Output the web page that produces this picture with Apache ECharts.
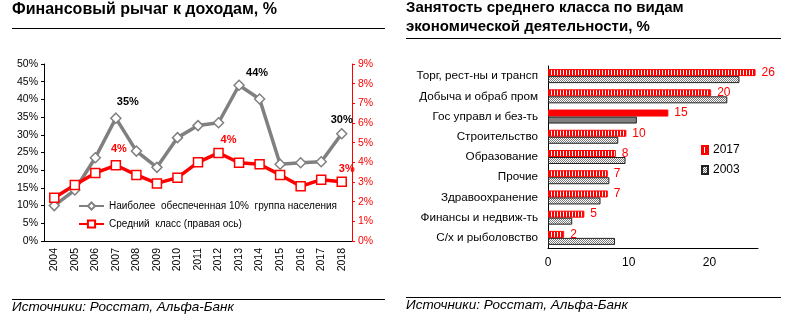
<!DOCTYPE html>
<html><head><meta charset="utf-8">
<script src="https://cdn.jsdelivr.net/npm/echarts/dist/echarts.min.js"></script>
<style>html,body{margin:0;padding:0;background:#fff}#c{width:787px;height:325px}</style>
</head><body><div id="c"></div>
<script>
// ---- Left chart data ----
const years = ['2004','2005','2006','2007','2008','2009','2010','2011','2012','2013','2014','2015','2016','2017','2018'];
const richestShare = [10.0, 14.4, 23.5, 34.7, 25.4, 20.8, 29.2, 32.6, 33.4, 44.0, 40.1, 21.7, 22.1, 22.4, 30.3];
const middleClassLeverage = [2.2, 2.85, 3.46, 3.85, 3.36, 2.93, 3.22, 4.0, 4.48, 3.98, 3.9, 3.36, 2.78, 3.12, 3.01];
const richestName = 'Наиболее  обеспеченная 10%  группа населения';
const middleName = 'Средний  класс (правая ось)';
const leftAxisTicks = {min: 0, max: 50, step: 5};
const rightAxisTicks = {min: 0, max: 9, step: 1};
// ---- Right chart data ----
const sectors = ['Торг, рест-ны и трансп','Добыча и обраб пром','Гос управл и без-ть','Строительство','Образование','Прочие','Здравоохранение','Финансы и недвиж-ть','С/х и рыболовство'];
const emp2017 = [25.7, 20.2, 14.9, 9.7, 8.4, 7.4, 7.4, 4.5, 2.0];
const emp2003 = [23.7, 22.2, 11.0, 8.7, 9.6, 7.6, 6.5, 3.0, 8.3];
const valueTicks = {min: 0, max: 26, step: 10};

// ---- styles ----
const FONT = '"Liberation Sans", Arial, sans-serif';
const richLabelOffsets = {3: [12, -3], 9: [18, 1], 14: [0, -1]};
const midLabelOffsets = {3: [3, -4], 8: [10, 0], 14: [5, 0]};
const solidIdx = 2;

function stripe(){
  const c = document.createElement('canvas'); c.width = 3; c.height = 3;
  const x = c.getContext('2d');
  x.fillStyle = '#ffffff'; x.fillRect(0,0,3,3);
  x.fillStyle = '#ff0000'; x.fillRect(0,0,2,3);
  return c;
}
function checker(){
  const c = document.createElement('canvas'); c.width = 2; c.height = 2;
  const x = c.getContext('2d');
  x.fillStyle = '#ffffff'; x.fillRect(0,0,2,2);
  x.fillStyle = '#7a7a7a'; x.fillRect(0,0,1,1); x.fillRect(1,1,1,1);
  return c;
}
const redPattern = {image: stripe(), repeat: 'repeat'};
const grayPattern = {image: checker(), repeat: 'repeat'};

const chart = echarts.init(document.getElementById('c'), null, {renderer: 'canvas'});

const richData = richestShare.map((v, i) => richLabelOffsets[i] ? {
  value: v, label: {show: true, offset: richLabelOffsets[i]}
} : v);
const midData = middleClassLeverage.map((v, i) => midLabelOffsets[i] ? {
  value: v, label: {show: true, offset: midLabelOffsets[i]}
} : v);

const d2017 = emp2017.map((v, i) => i === solidIdx ? {value: v, itemStyle: {color: '#ff0000', borderColor: '#ff0000'}} : v);
const d2003 = emp2003.map((v, i) => i === solidIdx ? {value: v, itemStyle: {color: '#808080', borderColor: '#222'}} : v);

const txt = (x, y, text, font) => ({
  type: 'text', left: x, top: y,
  style: {text: text, font: font, fill: '#000'}
});
const hline = (x1, x2, y, w) => ({type: 'line', silent: true,
  shape: {x1: x1, y1: y, x2: x2, y2: y}, style: {stroke: '#000', lineWidth: w || 1}});

chart.setOption({
  animation: false,
  textStyle: {fontFamily: FONT},
  grid: [
    {left: 44, right: 435, top: 64, bottom: 84, containLabel: false, outerBoundsMode: 'none'},
    {left: 548, right: 29, top: 66, bottom: 77, containLabel: false, outerBoundsMode: 'none'}
  ],
  legend: [
    {orient: 'vertical', left: 78, top: 201, padding: 0, itemWidth: 25, itemHeight: 9, itemGap: 8,
     data: [richestName, middleName],
     textStyle: {fontFamily: FONT, fontSize: 10, color: '#000'}},
    {orient: 'vertical', left: 701, top: 144, padding: 0, itemWidth: 6, itemHeight: 8, itemGap: 8, icon: 'rect',
     data: ['2017', '2003'],
     textStyle: {fontFamily: FONT, fontSize: 12, color: '#000'}}
  ],
  xAxis: [
    {type: 'category', gridIndex: 0, data: years, boundaryGap: true,
     axisLine: {lineStyle: {color: '#000', width: 1}}, axisTick: {show: false},
     axisLabel: {rotate: 90, interval: 0, margin: 7, fontSize: 10.5, color: '#000', fontFamily: FONT},
     splitLine: {show: false}},
    {type: 'value', gridIndex: 1, min: valueTicks.min, max: valueTicks.max, interval: valueTicks.step,
     axisLine: {show: true, lineStyle: {color: '#000', width: 1}}, axisTick: {show: false},
     axisLabel: {showMaxLabel: false, margin: 9, fontSize: 12, color: '#000', fontFamily: FONT},
     splitLine: {show: false}}
  ],
  yAxis: [
    {type: 'value', gridIndex: 0, min: leftAxisTicks.min, max: leftAxisTicks.max, interval: leftAxisTicks.step,
     axisLine: {show: true, lineStyle: {color: '#000', width: 1}},
     axisTick: {show: true, length: 3, lineStyle: {color: '#000'}},
     axisLabel: {formatter: v => v + '%', margin: 6, fontSize: 10.5, color: '#000', fontFamily: FONT},
     splitLine: {show: false}},
    {type: 'value', gridIndex: 0, position: 'right', min: rightAxisTicks.min, max: rightAxisTicks.max, interval: rightAxisTicks.step,
     axisLine: {show: true, lineStyle: {color: '#ff0000', width: 1}},
     axisTick: {show: true, length: 3, lineStyle: {color: '#ff0000'}},
     axisLabel: {formatter: v => v + '%', margin: 6, fontSize: 10.5, color: '#ff0000', fontFamily: FONT},
     splitLine: {show: false}},
    {type: 'category', gridIndex: 1, data: sectors, inverse: true,
     axisLine: {show: true, lineStyle: {color: '#000', width: 1}}, axisTick: {show: false},
     axisLabel: {margin: 10, fontSize: 11.7, color: '#000', fontFamily: FONT, interval: 0},
     splitLine: {show: false}}
  ],
  series: [
    {name: richestName, type: 'line', xAxisIndex: 0, yAxisIndex: 0, data: richData,
     symbol: 'diamond', symbolSize: 10, showAllSymbol: true,
     lineStyle: {color: '#808080', width: 3.5},
     itemStyle: {color: '#ffffff', borderColor: '#808080', borderWidth: 1.5},
     label: {show: false, position: 'top', distance: 2, color: '#000', fontWeight: 'bold', fontSize: 11,
             fontFamily: FONT, formatter: p => Math.round(p.value) + '%'}},
    {name: middleName, type: 'line', xAxisIndex: 0, yAxisIndex: 1, data: midData,
     symbol: 'rect', symbolSize: 9, showAllSymbol: true,
     lineStyle: {color: '#ff0000', width: 3.5},
     itemStyle: {color: '#ffffff', borderColor: '#ff0000', borderWidth: 1.5},
     label: {show: false, position: 'top', distance: 2, color: '#ff0000', fontWeight: 'bold', fontSize: 11,
             fontFamily: FONT, formatter: p => Math.round(p.value) + '%'}},
    {name: '2017', type: 'bar', xAxisIndex: 1, yAxisIndex: 2, data: d2017,
     barWidth: 7, barGap: '0%',
     itemStyle: {color: redPattern, borderColor: '#ff0000', borderWidth: 1},
     label: {show: true, position: 'right', distance: 6, color: '#ff0000', fontSize: 12, fontFamily: FONT,
             formatter: p => Math.round(p.value)}},
    {name: '2003', type: 'bar', xAxisIndex: 1, yAxisIndex: 2, data: d2003,
     barWidth: 7, barGap: '0%',
     itemStyle: {color: grayPattern, borderColor: '#222', borderWidth: 1}}
  ],
  graphic: [
    txt(12, 2, 'Финансовый рычаг к доходам, %', 'bold 16px ' + FONT),
    hline(12, 385, 28.5),
    txt(406, 0, 'Занятость среднего класса по видам', 'bold 15px ' + FONT),
    txt(406, 19, 'экономической деятельности, %', 'bold 15px ' + FONT),
    hline(406, 781, 38.5),
    hline(12, 385, 299.5),
    txt(12, 300, 'Источники: Росстат, Альфа-Банк', 'italic 13.5px ' + FONT),
    hline(406, 781, 297.5),
    txt(406, 298.5, 'Источники: Росстат, Альфа-Банк', 'italic 13.5px ' + FONT)
  ]
});
</script>
</body></html>
